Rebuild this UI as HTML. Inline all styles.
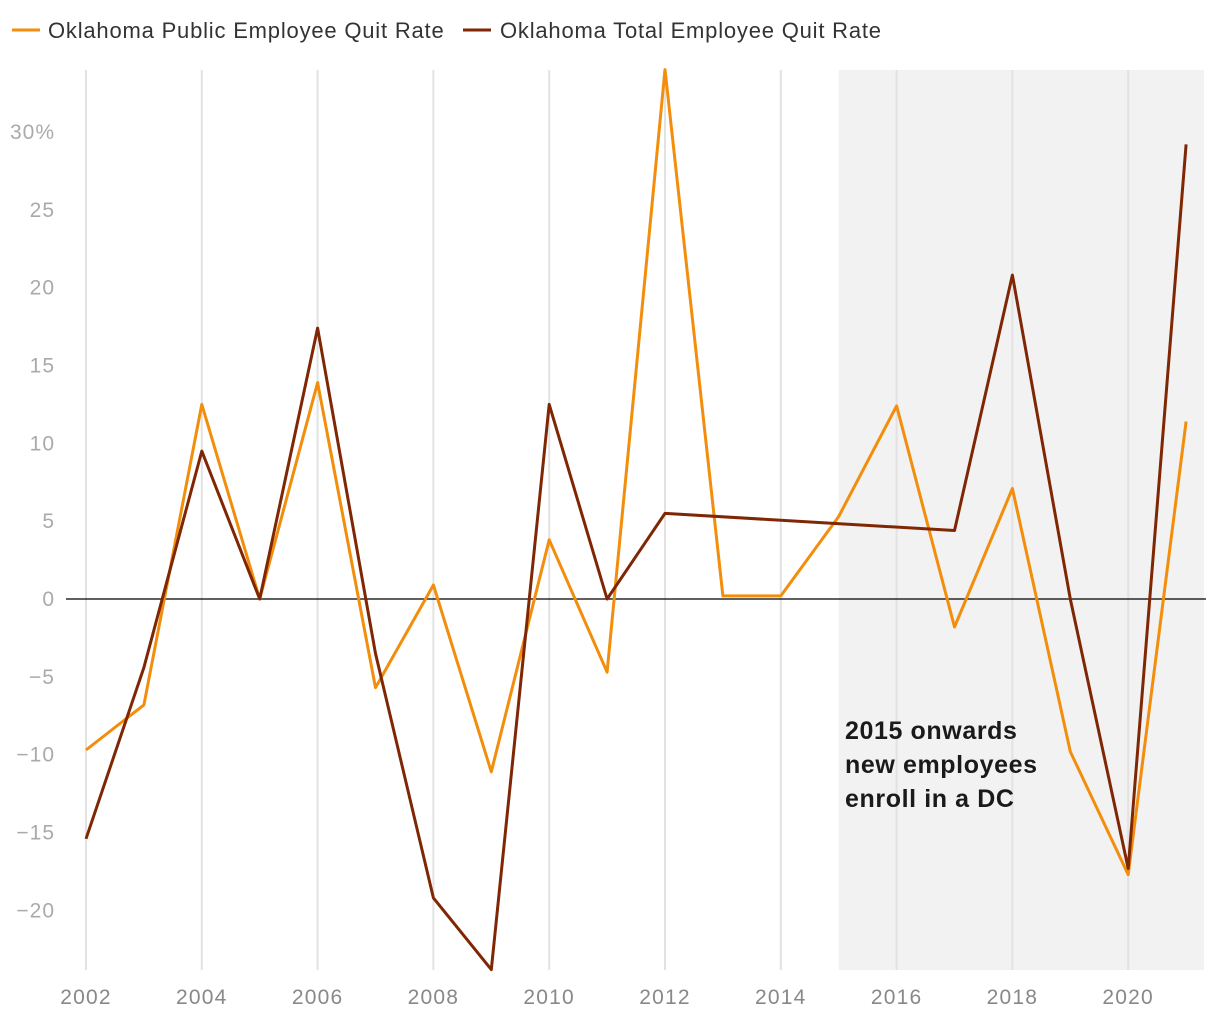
<!DOCTYPE html>
<html><head><meta charset="utf-8"><style>
body{margin:0;background:#fff;font-family:"Liberation Sans",sans-serif}
svg text{font-family:"Liberation Sans",sans-serif}
</style></head><body>
<svg id="chart" width="1220" height="1020" xmlns="http://www.w3.org/2000/svg">
<g>
<line x1="12" y1="30" x2="40" y2="30" stroke="#f28e0c" stroke-width="3"/>
<text x="48" y="38" font-size="22" letter-spacing="0.8" fill="#333">Oklahoma Public Employee Quit Rate</text>
<line x1="463" y1="30" x2="491" y2="30" stroke="#7f2704" stroke-width="3"/>
<text x="500" y="38" font-size="22" letter-spacing="0.8" fill="#333">Oklahoma Total Employee Quit Rate</text>
</g>
<g id="plot"></g>
</svg>
<script>
const years=[2002,2003,2004,2005,2006,2007,2008,2009,2010,2011,2012,2013,2014,2015,2016,2017,2018,2019,2020,2021];
const publicRate=[-9.7,-6.8,12.5,0,13.9,-5.7,0.9,-11.1,3.8,-4.7,34,0.2,0.2,5.3,12.4,-1.8,7.1,-9.8,-17.7,11.4];
const totalRate=[-15.4,-4.4,9.5,0,17.4,-3.5,-19.2,-23.8,12.5,0,5.5,null,null,null,null,4.4,20.8,0,-17.3,29.2];
const yTicks=[-20,-15,-10,-5,0,5,10,15,20,25,30];
const xTicks=[2002,2004,2006,2008,2010,2012,2014,2016,2018,2020];
const shadeStart=2015;
const NS="http://www.w3.org/2000/svg";
const X=y=>86+(y-2002)*57.9;
const Y=v=>599-v*15.57;
const g=document.getElementById('plot');
function mk(t,a){const e=document.createElementNS(NS,t);for(const k in a)e.setAttribute(k,a[k]);g.appendChild(e);return e;}
const sh=mk('rect',{x:X(shadeStart),y:70,width:1204-X(shadeStart),height:900,fill:'#f2f2f2'});


xTicks.forEach(t=>{
 const l=mk('line',{x1:X(t),x2:X(t),y1:70,y2:970,stroke:'#e2e2e2','stroke-width':2});
 
 
 const tx=mk('text',{x:X(t),y:1004,'font-size':21,'letter-spacing':1.2,fill:'#888','text-anchor':'middle'});
 tx.textContent=t;
 
 
});
yTicks.forEach(t=>{
 const tx=mk('text',{x:55,y:Y(t)+7,'font-size':21,'letter-spacing':1,fill:'#aaa','text-anchor':'end'});
 tx.textContent=(t<0?'\u2212'+(-t):t)+(t===30?'%':'');
 
 
});
const z=mk('line',{x1:66,x2:1206,y1:Y(0),y2:Y(0),stroke:'#000','stroke-width':1.3});


function series(vals,color,name){
 const pts=[];vals.forEach((v,i)=>{if(v!==null)pts.push(X(years[i]).toFixed(1)+','+Y(v).toFixed(1));});
 const p=mk('polyline',{points:pts.join(' '),fill:'none',stroke:color,'stroke-width':3,'stroke-linejoin':'round'});
 
 
}
series(publicRate,'#f28e0c','public-quit-rate-line');
series(totalRate,'#7f2704','total-quit-rate-line');
['2015 onwards','new employees','enroll in a DC'].forEach((s,i)=>{
 const tx=mk('text',{x:845,y:739+i*34,'font-size':25,'letter-spacing':0.6,'font-weight':'bold',fill:'#1a1a1a'});
 tx.textContent=s;
 
 
});
</script>
</body></html>
